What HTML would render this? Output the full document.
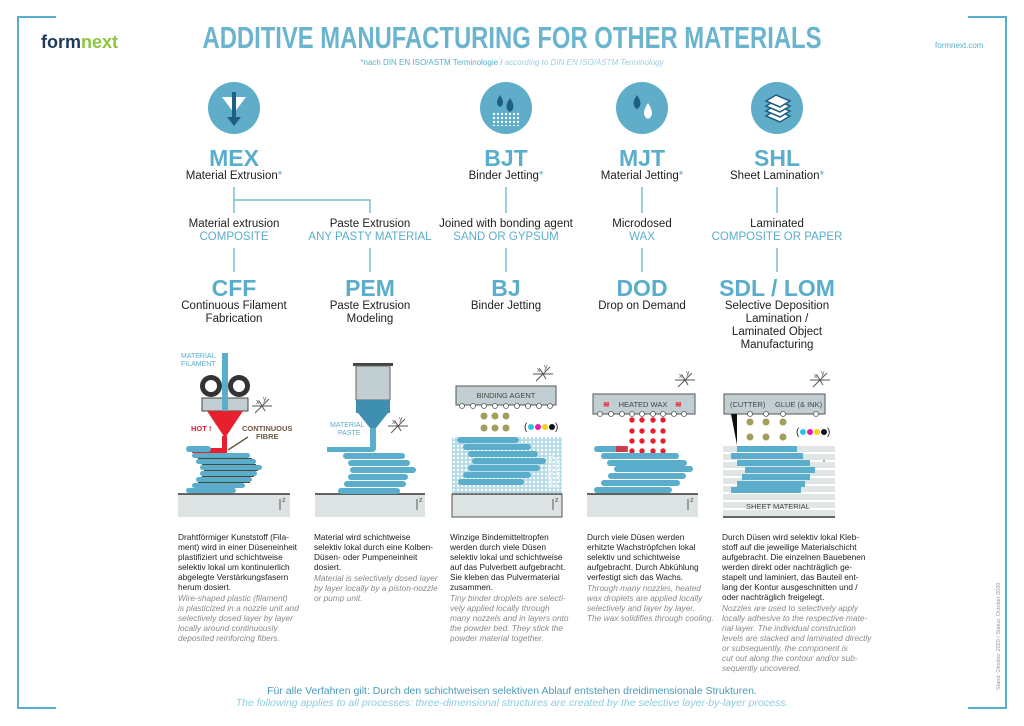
<!DOCTYPE html>
<html><head><meta charset="utf-8"><style>
html,body{margin:0;padding:0;background:#fff}
svg{display:block}
text{font-family:"Liberation Sans Narrow","Liberation Sans",sans-serif}
.h{font-weight:bold;fill:#5aaecb;font-size:23px;text-anchor:middle}
.s{fill:#1e1e1e;font-size:11.5px;text-anchor:middle}
.b{fill:#5aaecb;font-size:11.5px;text-anchor:middle}
.d{fill:#222;font-size:8.3px;font-family:"Liberation Sans",sans-serif}
.e{fill:#8a8a8a;font-size:8.3px;font-style:italic;font-family:"Liberation Sans",sans-serif}
.l{fill:#555;font-size:7px;font-family:"Liberation Sans",sans-serif}
</style></head><body>
<svg width="1024" height="726" viewBox="0 0 1024 726" xmlns="http://www.w3.org/2000/svg">
<defs>
<pattern id="dots" width="4" height="4" patternUnits="userSpaceOnUse"><rect width="4" height="4" fill="#5aaecb"/><circle cx="2" cy="2" r="1.2" fill="#fff"/></pattern>
<g id="xyz" stroke="#555" stroke-width="1" fill="none"><line x1="-10" y1="0" x2="10" y2="0"/><line x1="-7" y1="7" x2="7" y2="-7"/><line x1="-3" y1="-5" x2="3" y2="5"/><text x="-6" y="-2" class="l" stroke="none" font-size="6">x</text><text x="1" y="-5" class="l" stroke="none" font-size="6">y</text></g>
</defs>
<!-- frame -->
<g stroke="#5aaecb" stroke-width="2" fill="none">
<polyline points="56,17 18,17 18,708 56,708"/>
<polyline points="968,17 1006,17 1006,708 968,708"/>
</g>
<text x="41" y="48" font-size="18" font-weight="bold" fill="#1d3a5a">form<tspan fill="#8cc63f">next</tspan></text>
<text x="935" y="48" font-size="8" fill="#5aaecb" font-family="Liberation Sans,sans-serif">formnext.com</text>
<text x="512" y="48" font-size="31" font-weight="bold" fill="#6ab4d0" text-anchor="middle" textLength="619" lengthAdjust="spacingAndGlyphs">ADDITIVE MANUFACTURING FOR OTHER MATERIALS</text>
<text x="512" y="65" font-size="8" fill="#5aaecb" text-anchor="middle">*nach DIN EN ISO/ASTM Terminologie / <tspan font-style="italic" fill="#9ccfe0">according to DIN EN ISO/ASTM Terminology</tspan></text>

<!-- icons -->
<g fill="#5fadc9"><circle cx="234" cy="108" r="26"/><circle cx="506" cy="108" r="26"/><circle cx="642" cy="108" r="26"/><circle cx="777" cy="108" r="26"/></g>
<g>
<polygon points="222,97 246,97 234,113" fill="#fff"/><rect x="232" y="92" width="4" height="28" fill="#1f5f86"/><polygon points="227,117 241,117 234,126" fill="#1f5f86"/>
<rect x="492" y="112" width="28" height="14" fill="url(#dots)"/><path d="M500,95 q-6,9 0,12 q6,-3 0,-12z" fill="#1f5f86"/><path d="M510,98 q-7,10 0,14 q7,-4 0,-14z" fill="#1f5f86"/>
<path d="M637,95 q-7,10 0,14 q7,-4 0,-14z" fill="#1f5f86"/><path d="M648,103 q-8,12 0,16 q8,-4 0,-16z" fill="#fff"/>
<g fill="#fff" stroke="#1f5f86" stroke-width="1.5"><polygon points="766,116 780,122 790,116 776,110"/><polygon points="766,111 780,117 790,111 776,105"/><polygon points="766,106 780,112 790,106 776,100"/><polygon points="766,101 780,107 790,101 776,95"/></g>
</g>

<!-- level 1 -->
<text class="h" x="234" y="166">MEX</text><text class="s" x="234" y="179">Material Extrusion<tspan fill="#5aaecb">*</tspan></text>
<text class="h" x="506" y="166">BJT</text><text class="s" x="506" y="179">Binder Jetting<tspan fill="#5aaecb">*</tspan></text>
<text class="h" x="642" y="166">MJT</text><text class="s" x="642" y="179">Material Jetting<tspan fill="#5aaecb">*</tspan></text>
<text class="h" x="777" y="166">SHL</text><text class="s" x="777" y="179">Sheet Lamination<tspan fill="#5aaecb">*</tspan></text>
<g stroke="#5aaecb" stroke-width="1.2" fill="none">
<polyline points="234,187 234,213"/><polyline points="234,200 370,200 370,213"/>
<line x1="506" y1="187" x2="506" y2="213"/><line x1="642" y1="187" x2="642" y2="213"/><line x1="777" y1="187" x2="777" y2="213"/>
<line x1="234" y1="248" x2="234" y2="272"/><line x1="370" y1="248" x2="370" y2="272"/><line x1="506" y1="248" x2="506" y2="272"/><line x1="642" y1="248" x2="642" y2="272"/><line x1="777" y1="248" x2="777" y2="272"/>
</g>
<text class="s" x="234" y="227">Material extrusion</text><text class="b" x="234" y="240">COMPOSITE</text>
<text class="s" x="370" y="227">Paste Extrusion</text><text class="b" x="370" y="240">ANY PASTY MATERIAL</text>
<text class="s" x="506" y="227">Joined with bonding agent</text><text class="b" x="506" y="240">SAND OR GYPSUM</text>
<text class="s" x="642" y="227">Microdosed</text><text class="b" x="642" y="240">WAX</text>
<text class="s" x="777" y="227">Laminated</text><text class="b" x="777" y="240">COMPOSITE OR PAPER</text>

<text class="h" x="234" y="296">CFF</text><text class="s" x="234" y="309">Continuous Filament</text><text class="s" x="234" y="322">Fabrication</text>
<text class="h" x="370" y="296">PEM</text><text class="s" x="370" y="309">Paste Extrusion</text><text class="s" x="370" y="322">Modeling</text>
<text class="h" x="506" y="296">BJ</text><text class="s" x="506" y="309">Binder Jetting</text>
<text class="h" x="642" y="296">DOD</text><text class="s" x="642" y="309">Drop on Demand</text>
<text class="h" x="777" y="296">SDL / LOM</text><text class="s" x="777" y="309">Selective Deposition</text><text class="s" x="777" y="322">Lamination /</text><text class="s" x="777" y="335">Laminated Object</text><text class="s" x="777" y="348">Manufacturing</text>

<!-- platforms -->
<g fill="#dde3e3"><rect x="178" y="494" width="112" height="23"/><rect x="315" y="494" width="110" height="23"/><rect x="452" y="494" width="110" height="23"/><rect x="587" y="494" width="111" height="23"/></g>
<g stroke="#333" stroke-width="1.5"><line x1="178" y1="494" x2="290" y2="494"/><line x1="315" y1="494" x2="425" y2="494"/><line x1="452" y1="494" x2="562" y2="494"/><line x1="587" y1="494" x2="698" y2="494"/><line x1="723" y1="517" x2="835" y2="517"/></g>
<g stroke="#555" fill="#555"><line x1="280" y1="499" x2="280" y2="510"/><line x1="417" y1="499" x2="417" y2="510"/><line x1="553" y1="499" x2="553" y2="510"/><line x1="688" y1="499" x2="688" y2="510"/><line x1="824" y1="455" x2="824" y2="466"/></g>
<g class="l"><text x="282" y="502" class="l">z</text><text x="419" y="502" class="l">z</text><text x="555" y="502" class="l">z</text><text x="690" y="502" class="l">z</text><text x="826" y="458" class="l">z</text></g>

<!-- CFF -->
<text x="181" y="358" font-size="7" fill="#5aaecb">MATERIAL</text><text x="181" y="366" font-size="7" fill="#5aaecb">FILAMENT</text>
<g fill="#333"><circle cx="211" cy="386" r="11"/><circle cx="239" cy="386" r="11"/></g>
<g fill="#fff"><circle cx="211" cy="386" r="6"/><circle cx="239" cy="386" r="6"/></g>
<rect x="202" y="398" width="46" height="13" fill="#c2cfd2" stroke="#444"/>
<rect x="222" y="353" width="6" height="58" fill="#5aaecb"/>
<polygon points="207,411 243,411 225,438" fill="#e8202e"/>
<path d="M222,436 v12 h-30 v5 h35 v-17z" fill="#e8202e"/>
<text x="191" y="431" font-size="7.5" font-weight="bold" fill="#e8202e">HOT !</text>
<text x="242" y="431" font-size="7.5" font-weight="bold" fill="#6d5a40">CONTINUOUS</text><text x="256" y="439" font-size="7.5" font-weight="bold" fill="#6d5a40">FIBRE</text>
<line x1="228" y1="450" x2="248" y2="437" stroke="#6d5a40" stroke-width="1.5"/>
<g fill="#5aaecb"><rect x="186" y="446" width="25" height="6" rx="3"/><rect x="192" y="453" width="58" height="5" rx="2.5"/><rect x="196" y="459" width="60" height="5" rx="2.5"/><rect x="200" y="465" width="62" height="5" rx="2.5"/><rect x="200" y="471" width="57" height="5" rx="2.5"/><rect x="196" y="477" width="56" height="5" rx="2.5"/><rect x="192" y="483" width="53" height="5" rx="2.5"/><rect x="186" y="488" width="50" height="5" rx="2.5"/></g>
<g stroke="#4a4a3a" stroke-width="1"><line x1="198" y1="458.5" x2="252" y2="458.5"/><line x1="202" y1="464.5" x2="256" y2="464.5"/><line x1="204" y1="470.5" x2="258" y2="470.5"/><line x1="202" y1="476.5" x2="254" y2="476.5"/><line x1="198" y1="482.5" x2="250" y2="482.5"/></g>
<use href="#xyz" x="262" y="406"/>

<!-- PEM -->
<rect x="353" y="363" width="40" height="3" fill="#444"/>
<rect x="356" y="366" width="34" height="34" fill="#c2cfd2" stroke="#666"/>
<rect x="356" y="400" width="34" height="13" fill="#3e8fb0"/>
<polygon points="358,413 388,413 376,428 370,428" fill="#3e8fb0"/>
<path d="M370,428 h6 v20 q0,4 -4,4 h-45 v-5 h43z" fill="#5aaecb"/>
<text x="330" y="427" font-size="7" fill="#5aaecb">MATERIAL</text><text x="338" y="435" font-size="7" fill="#5aaecb">PASTE</text>
<g fill="#5aaecb"><rect x="343" y="453" width="62" height="6" rx="3"/><rect x="348" y="460" width="62" height="6" rx="3"/><rect x="350" y="467" width="66" height="6" rx="3"/><rect x="348" y="474" width="60" height="6" rx="3"/><rect x="344" y="481" width="62" height="6" rx="3"/><rect x="338" y="488" width="62" height="6" rx="3"/></g>
<use href="#xyz" x="398" y="426"/>

<!-- BJ -->
<rect x="456" y="386" width="100" height="19" fill="#c2cfd2" stroke="#555"/>
<text x="506" y="398" font-size="7.5" fill="#444" text-anchor="middle">BINDING AGENT</text>
<g fill="#fff" stroke="#555" stroke-width=".8"><circle cx="462" cy="406" r="2.5"/><circle cx="473" cy="406" r="2.5"/><circle cx="484" cy="406" r="2.5"/><circle cx="495" cy="406" r="2.5"/><circle cx="506" cy="406" r="2.5"/><circle cx="517" cy="406" r="2.5"/><circle cx="528" cy="406" r="2.5"/><circle cx="539" cy="406" r="2.5"/><circle cx="550" cy="406" r="2.5"/></g>
<g fill="#a39d5e"><circle cx="484" cy="416" r="3.5"/><circle cx="495" cy="416" r="3.5"/><circle cx="506" cy="416" r="3.5"/><circle cx="484" cy="428" r="3.5"/><circle cx="495" cy="428" r="3.5"/><circle cx="506" cy="428" r="3.5"/></g>
<text x="524" y="430" font-size="10" fill="#222">(</text><circle cx="531" cy="427" r="3" fill="#2ec4e8"/><circle cx="538" cy="427" r="3" fill="#e020a8"/><circle cx="545" cy="427" r="3" fill="#f5d020"/><circle cx="552" cy="427" r="3" fill="#111"/><text x="555" y="430" font-size="10" fill="#222">)</text>
<rect x="452" y="437" width="110" height="57" fill="url(#dots)" opacity=".45"/>
<g fill="#5aaecb"><rect x="457" y="437" width="62" height="6" rx="3"/><rect x="463" y="444" width="68" height="6" rx="3"/><rect x="468" y="451" width="70" height="6" rx="3"/><rect x="472" y="458" width="74" height="6" rx="3"/><rect x="468" y="465" width="72" height="6" rx="3"/><rect x="463" y="472" width="68" height="6" rx="3"/><rect x="458" y="479" width="66" height="6" rx="3"/></g>
<text transform="translate(553,488) rotate(-90)" font-size="7" fill="#fff">MATERIAL</text><text transform="translate(560,488) rotate(-90)" font-size="7" fill="#fff">POWDER</text>
<rect x="452" y="494" width="110" height="23" fill="none" stroke="#555"/>
<use href="#xyz" x="543" y="374"/>

<!-- DOD -->
<rect x="593" y="394" width="102" height="20" fill="#c2cfd2" stroke="#555"/>
<text x="643" y="407" font-size="7.5" fill="#444" text-anchor="middle">HEATED WAX</text>
<text x="603" y="407" font-size="8" fill="#e8202e" font-weight="bold">≋</text><text x="675" y="407" font-size="8" fill="#e8202e" font-weight="bold">≋</text>
<g fill="#fff" stroke="#555" stroke-width=".8"><circle cx="600" cy="414" r="2.5"/><circle cx="611" cy="414" r="2.5"/><circle cx="622" cy="414" r="2.5"/><circle cx="632" cy="414" r="2.5"/><circle cx="642" cy="414" r="2.5"/><circle cx="653" cy="414" r="2.5"/><circle cx="663" cy="414" r="2.5"/><circle cx="674" cy="414" r="2.5"/><circle cx="684" cy="414" r="2.5"/></g>
<g fill="#e8202e"><circle cx="632" cy="420" r="2.7"/><circle cx="642" cy="420" r="2.7"/><circle cx="653" cy="420" r="2.7"/><circle cx="663" cy="420" r="2.7"/><circle cx="632" cy="431" r="2.7"/><circle cx="642" cy="431" r="2.7"/><circle cx="653" cy="431" r="2.7"/><circle cx="663" cy="431" r="2.7"/><circle cx="632" cy="441" r="2.7"/><circle cx="642" cy="441" r="2.7"/><circle cx="653" cy="441" r="2.7"/><circle cx="663" cy="441" r="2.7"/><circle cx="632" cy="451" r="2.7"/><circle cx="642" cy="451" r="2.7"/><circle cx="653" cy="451" r="2.7"/><circle cx="663" cy="451" r="2.7"/></g>
<g fill="#5aaecb"><rect x="594" y="446" width="33" height="6" rx="3"/><rect x="601" y="453" width="78" height="6" rx="3"/><rect x="607" y="460" width="80" height="6" rx="3"/><rect x="614" y="466" width="79" height="6" rx="3"/><rect x="608" y="473" width="78" height="6" rx="3"/><rect x="601" y="480" width="79" height="6" rx="3"/><rect x="594" y="487" width="78" height="6" rx="3"/></g>
<rect x="616" y="446" width="12" height="6" fill="#e8202e" opacity=".8"/>
<use href="#xyz" x="685" y="380"/>

<!-- SHL -->
<rect x="724" y="394" width="101" height="20" fill="#c2cfd2" stroke="#555"/>
<text x="730" y="407" font-size="7.5" fill="#444">(CUTTER)</text><text x="775" y="407" font-size="7.5" fill="#444">GLUE (&amp; INK)</text>
<g fill="#fff" stroke="#555" stroke-width=".8"><circle cx="750" cy="414" r="2.5"/><circle cx="766" cy="414" r="2.5"/><circle cx="783" cy="414" r="2.5"/><circle cx="816" cy="414" r="2.5"/></g>
<polygon points="731,414 737,414 737,445" fill="#111"/>
<g fill="#a39d5e"><circle cx="750" cy="422" r="3.5"/><circle cx="766" cy="422" r="3.5"/><circle cx="783" cy="422" r="3.5"/><circle cx="750" cy="437" r="3.5"/><circle cx="766" cy="437" r="3.5"/><circle cx="783" cy="437" r="3.5"/></g>
<text x="796" y="435" font-size="10" fill="#222">(</text><circle cx="803" cy="432" r="3" fill="#2ec4e8"/><circle cx="810" cy="432" r="3" fill="#e020a8"/><circle cx="817" cy="432" r="3" fill="#f5d020"/><circle cx="824" cy="432" r="3" fill="#111"/><text x="827" y="435" font-size="10" fill="#222">)</text>
<g fill="#e0e5e5"><rect x="723" y="446" width="112" height="6"/><rect x="723" y="454" width="112" height="6"/><rect x="723" y="462" width="112" height="6"/><rect x="723" y="470" width="112" height="6"/><rect x="723" y="478" width="112" height="6"/><rect x="723" y="486" width="112" height="6"/><rect x="723" y="494" width="112" height="6"/><rect x="723" y="502" width="112" height="6"/><rect x="723" y="510" width="112" height="6"/></g>
<g fill="#5aaecb"><rect x="737" y="446" width="60" height="6"/><rect x="731" y="453" width="72" height="6"/><rect x="737" y="460" width="73" height="6"/><rect x="745" y="467" width="70" height="6"/><rect x="742" y="474" width="68" height="6"/><rect x="737" y="481" width="68" height="6"/><rect x="731" y="487" width="70" height="6"/></g>
<text x="778" y="509" font-size="7.5" fill="#444" text-anchor="middle">SHEET MATERIAL</text>
<use href="#xyz" x="820" y="380"/>

<!-- descriptions -->
<g class="d">
<text x="178" y="540">Drahtförmiger Kunststoff (Fila-</text><text x="178" y="550">ment) wird in einer Düseneinheit</text><text x="178" y="560">plastifiziert und schichtweise</text><text x="178" y="570">selektiv lokal um kontinuierlich</text><text x="178" y="580">abgelegte Verstärkungsfasern</text><text x="178" y="590">herum dosiert.</text>
<text x="314" y="540">Material wird schichtweise</text><text x="314" y="550">selektiv lokal durch eine Kolben-</text><text x="314" y="560">Düsen- oder Pumpeneinheit</text><text x="314" y="570">dosiert.</text>
<text x="450" y="540">Winzige Bindemitteltropfen</text><text x="450" y="550">werden durch viele Düsen</text><text x="450" y="560">selektiv lokal und schichtweise</text><text x="450" y="570">auf das Pulverbett aufgebracht.</text><text x="450" y="580">Sie kleben das Pulvermaterial</text><text x="450" y="590">zusammen.</text>
<text x="587" y="540">Durch viele Düsen werden</text><text x="587" y="550">erhitzte Wachströpfchen lokal</text><text x="587" y="560">selektiv und schichtweise</text><text x="587" y="570">aufgebracht. Durch Abkühlung</text><text x="587" y="580">verfestigt sich das Wachs.</text>
<text x="722" y="540">Durch Düsen wird selektiv lokal Kleb-</text><text x="722" y="550">stoff auf die jeweilige Materialschicht</text><text x="722" y="560">aufgebracht. Die einzelnen Bauebenen</text><text x="722" y="570">werden direkt oder nachträglich ge-</text><text x="722" y="580">stapelt und laminiert, das Bauteil ent-</text><text x="722" y="590">lang der Kontur ausgeschnitten und /</text><text x="722" y="600">oder nachträglich freigelegt.</text>
</g>
<g class="e">
<text x="178" y="601">Wire-shaped plastic (filament)</text><text x="178" y="611">is plasticized in a nozzle unit and</text><text x="178" y="621">selectively dosed layer by layer</text><text x="178" y="631">locally around continuously</text><text x="178" y="641">deposited reinforcing fibers.</text>
<text x="314" y="581">Material is selectively dosed layer</text><text x="314" y="591">by layer locally by a piston-nozzle</text><text x="314" y="601">or pump unit.</text>
<text x="450" y="601">Tiny binder droplets are selecti-</text><text x="450" y="611">vely applied locally through</text><text x="450" y="621">many nozzels and in layers onto</text><text x="450" y="631">the powder bed. They stick the</text><text x="450" y="641">powder material together.</text>
<text x="587" y="591">Through many nozzles, heated</text><text x="587" y="601">wax droplets are applied locally</text><text x="587" y="611">selectively and layer by layer.</text><text x="587" y="621">The wax solidifies through cooling.</text>
<text x="722" y="611">Nozzles are used to selectively apply</text><text x="722" y="621">locally adhesive to the respective mate-</text><text x="722" y="631">rial layer. The individual construction</text><text x="722" y="641">levels are stacked and laminated directly</text><text x="722" y="651">or subsequently, the component is</text><text x="722" y="661">cut out along the contour and/or sub-</text><text x="722" y="671">sequently uncovered.</text>
</g>
<text transform="translate(1000,690) rotate(-90)" font-size="5.5" fill="#999" font-family="Liberation Sans,sans-serif">Stand: Oktober 2020 / Status: October 2020</text>
<text x="512" y="694" font-size="10.5" fill="#4a9bbb" text-anchor="middle" font-family="Liberation Sans,sans-serif">Für alle Verfahren gilt: Durch den schichtweisen selektiven Ablauf entstehen dreidimensionale Strukturen.</text>
<text x="512" y="706" font-size="10.5" fill="#8ccbe0" font-style="italic" text-anchor="middle" font-family="Liberation Sans,sans-serif">The following applies to all processes: three-dimensional structures are created by the selective layer-by-layer process.</text>
</svg>
</body></html>
